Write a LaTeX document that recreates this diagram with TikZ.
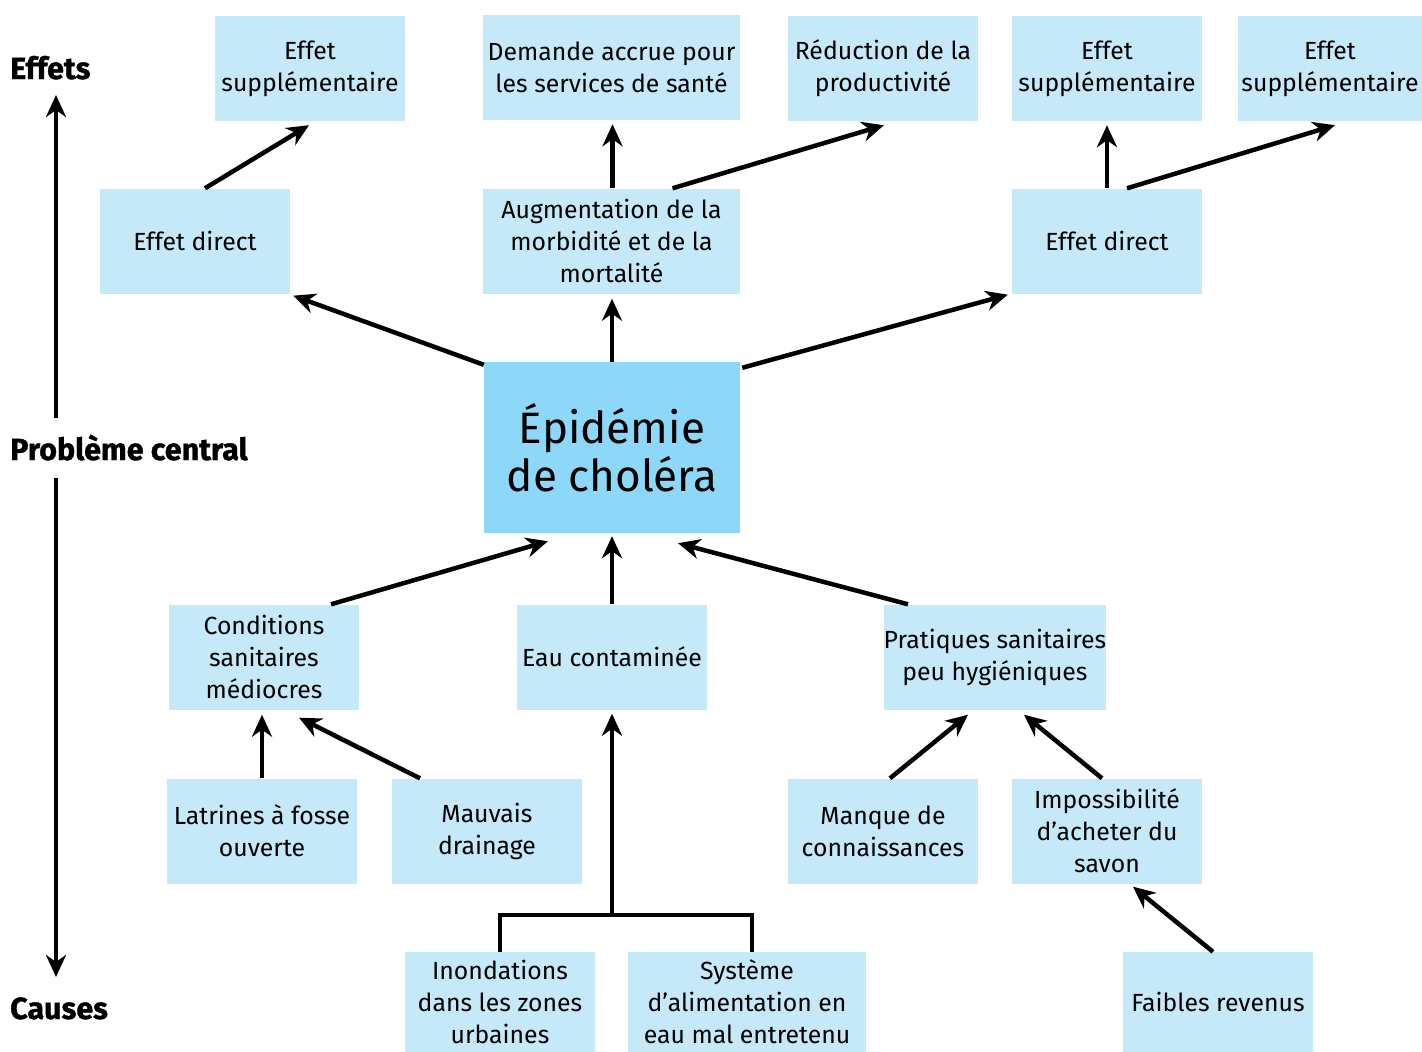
\documentclass[tikz,border=0pt]{standalone}
\usepackage{fontspec}
\setmainfont{Fira Sans}
\newfontfamily\heavyfont[BoldFeatures={FakeBold=1.2}]{Fira Sans}
\usepackage{xcolor}
\usetikzlibrary{arrows.meta,calc}
\definecolor{boxblue}{HTML}{C6E9F9}
\definecolor{coreblue}{HTML}{8DD8F8}
\tikzset{
  effectbox/.style={fill=boxblue,align=center,inner sep=0pt,
    minimum width=190pt,minimum height=105pt,font=\fontsize{24.8}{32}\selectfont},
  corebox/.style={fill=coreblue,align=center,inner sep=0pt,
    minimum width=256pt,minimum height=171pt,font=\fontsize{44}{48}\selectfont},
  causearrow/.style={-{Stealth[length=22pt,width=20pt,inset=7pt]},line width=4.5pt},
  busline/.style={line width=4.5pt},
  sidelabel/.style={font=\heavyfont\bfseries\fontsize{30.5}{36}\selectfont,anchor=base west,inner sep=0pt}
}
\begin{document}
\begin{tikzpicture}[x=1pt,y=-1pt]
  \useasboundingbox (0,0) rectangle (1422,1052);
  % side labels
  \node[sidelabel] (lblfx) at (10,79) {Effets};
  \node[sidelabel] (lblcore) at (10,460) {Problème central};
  \node[sidelabel] (lblcause) at (10,1019) {Causes};
  \coordinate (axfxtip) at (56,95);
  \coordinate (axup) at (56,418);
  \coordinate (axdown) at (56,478);
  \coordinate (axcausetip) at (56,977);
  \draw[causearrow] (axup) -- (axfxtip);
  \draw[causearrow] (axdown) -- (axcausetip);
  % effects
  \node[effectbox] (a1) at (310,68.5) {Effet\\supplémentaire};
  \node[effectbox,minimum width=257pt] (a2) at (611.5,67.5) {Demande accrue pour\\les services de santé};
  \node[effectbox] (a3) at (883,68.5) {Réduction de la\\productivité};
  \node[effectbox] (a4) at (1107,68.5) {Effet\\supplémentaire};
  \node[effectbox,minimum width=184pt] (a5) at (1330,68.5) {Effet\\supplémentaire};
  \node[effectbox] (b1) at (195,241) {Effet direct};
  \node[effectbox,minimum width=257pt] (b2) at (611.5,241) {Augmentation de la\\morbidité et de la\\mortalité};
  \node[effectbox] (b3) at (1107,241) {Effet direct};
  % central problem
  \node[corebox] (core) at (612,447.5) {Épidémie\\de choléra};
  % causes
  \node[effectbox] (c1) at (264,657) {Conditions\\sanitaires\\médiocres};
  \node[effectbox] (c2) at (612,657) {Eau contaminée};
  \node[effectbox,minimum width=222pt] (c3) at (995,657) {Pratiques sanitaires\\peu hygiéniques};
  \node[effectbox] (d1) at (262,831) {Latrines à fosse\\ouverte};
  \node[effectbox] (d2) at (487,831) {Mauvais\\drainage};
  \node[effectbox] (d3) at (883,831) {Manque de\\connaissances};
  \node[effectbox] (d4) at (1107,831) {Impossibilité\\d’acheter du\\savon};
  \node[effectbox,minimum height=100pt] (e1) at (500,1002) {Inondations\\dans les zones\\urbaines};
  \node[effectbox,minimum width=238pt,minimum height=100pt] (e2) at (747,1002) {Système\\d’alimentation en\\eau mal entretenu};
  \node[effectbox,minimum height=100pt] (e3) at (1218,1002) {Faibles revenus};
  % arrows, upper half
  \draw[causearrow] ($(b1.north)+(10,0)$) -- ($(a1.south)+(-1,4)$);
  \draw[causearrow] ($(b2.north)+(1,0)$) -- ($(a2.south)+(1,4)$);
  \draw[causearrow] ($(b2.north)+(61,0)$) -- ($(a3.south)+(1,4)$);
  \draw[causearrow] (b3.north) -- ($(a4.south)+(0,4)$);
  \draw[causearrow] ($(b3.north)+(20,0)$) -- ($(a5.south)+(5,4)$);
  \draw[causearrow] ($(core.north west)+(0,3)$) -- ($(b1.south east)+(3,2)$);
  \draw[causearrow] (core.north) -- ($(b2.south)+(0.5,5)$);
  \draw[causearrow] ($(core.north east)+(2,6)$) -- ($(b3.south west)+(-4,1)$);
  % arrows, lower half
  \draw[causearrow] ($(c1.north)+(67,0)$) -- ($(core.south)+(-64,8)$);
  \draw[causearrow] (c2.north) -- ($(core.south)+(0,3)$);
  \draw[causearrow] ($(c3.north)+(-87,0)$) -- ($(core.south)+(66,10)$);
  \draw[causearrow] (d1.north) -- ($(c1.south)+(-2,5)$);
  \draw[causearrow] ($(d2.north)+(-67,0)$) -- ($(c1.south)+(35,8)$);
  \draw[causearrow] ($(d3.north)+(7,0)$) -- ($(c3.south)+(-27,5)$);
  \draw[causearrow] ($(d4.north)+(-5,0)$) -- ($(c3.south)+(29,5)$);
  \draw[causearrow] ($(e3.north)+(-5,0)$) -- ($(d4.south)+(26,3)$);
  \coordinate (join) at (612,915);
  \draw[busline] (e1.north) |- (join) -| ($(e2.north)+(5,0)$);
  \draw[causearrow] (join) -- ($(c2.south)+(0,4)$);
\end{tikzpicture}
\end{document}
